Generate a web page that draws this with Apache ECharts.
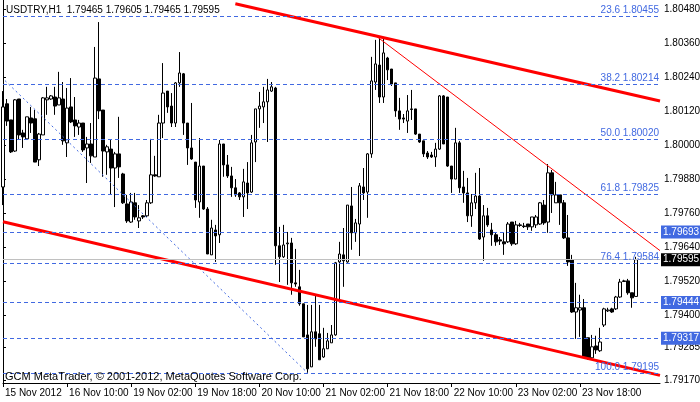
<!DOCTYPE html>
<html><head><meta charset="utf-8">
<script src="https://cdn.jsdelivr.net/npm/echarts@6/dist/echarts.min.js"></script>
<style>html,body{margin:0;padding:0;background:#fff;overflow:hidden}#c{width:700px;height:402px}</style>
</head><body><div id="c"></div>
<script>
const chartTitle = 'USDTRY,H1  1.79465 1.79605 1.79465 1.79595';
const copyright = 'GCM MetaTrader, \u00A9 2001-2012, MetaQuotes Software Corp.';
const timeLabels = ['15 Nov 2012','16 Nov 10:00','19 Nov 02:00','19 Nov 18:00','20 Nov 10:00','21 Nov 02:00','21 Nov 18:00','22 Nov 10:00','23 Nov 02:00','23 Nov 18:00'];
const barsPerLabel = 16;
const totalSlots = 165;
const yTicks = [1.80480,1.80360,1.80240,1.80120,1.80000,1.79880,1.79760,1.79640,1.79520,1.79400,1.79285,1.79170];

const open = [1.79852,1.80146,1.80089,1.79979,1.80163,1.80043,1.80022,1.80096,1.80093,1.79948,
1.80036,1.80160,1.80163,1.80170,1.80142,1.80163,1.80008,1.80135,1.80089,1.80064,
1.80078,1.79990,1.80004,1.79958,1.80234,1.80124,1.79976,1.79986,1.79919,1.79969,
1.79898,1.79792,1.79728,1.79796,1.79732,1.79750,1.79750,1.79796,1.79895,1.79888,
1.80078,1.80191,1.80138,1.80078,1.80220,1.80252,1.80078,1.79990,1.79940,1.79799,
1.79926,1.79774,1.79612,1.79700,1.79683,1.80004,1.79930,1.79891,1.79849,1.79831,
1.79817,1.79866,1.79834,1.80011,1.80128,1.80135,1.80153,1.80191,1.80202,1.79644,
1.79605,1.79651,1.79654,1.79513,1.79499,1.79439,1.79329,1.79216,1.79340,1.79333,
1.79251,1.79280,1.79301,1.79329,1.79587,1.79612,1.79587,1.79785,1.79690,1.79721,
1.79852,1.79834,1.79969,1.80223,1.80283,1.80170,1.80308,1.80269,1.80220,1.80121,
1.80096,1.80085,1.80128,1.80128,1.80039,1.80015,1.79972,1.79965,1.79958,1.79986,
1.80174,1.80170,1.79926,1.79880,1.80008,1.79852,1.79831,1.79750,1.79796,1.79820,
1.79675,1.79750,1.79700,1.79683,1.79665,1.79658,1.79658,1.79728,1.79651,1.79718,
1.79714,1.79721,1.79711,1.79718,1.79721,1.79788,1.79728,1.79902,1.79796,1.79824,
1.79796,1.79672,1.79594,1.79410,1.79417,1.79425,1.79319,1.79248,1.79290,1.79273,
1.79364,1.79414,1.79421,1.79421,1.79463,1.79520,1.79520,1.79478,1.79465];
const close = [1.80135,1.80085,1.79976,1.80160,1.80036,1.80029,1.80100,1.80078,1.79940,1.80039,
1.80167,1.80167,1.80174,1.80138,1.80167,1.80015,1.80131,1.80082,1.80068,1.80078,
1.79983,1.80004,1.79962,1.80237,1.80121,1.79979,1.79994,1.79919,1.79969,1.79923,
1.79796,1.79732,1.79799,1.79746,1.79743,1.79746,1.79796,1.79895,1.79891,1.80078,
1.80184,1.80135,1.80078,1.80220,1.80255,1.80078,1.79990,1.79951,1.79806,1.79926,
1.79774,1.79615,1.79707,1.79679,1.80004,1.79930,1.79891,1.79849,1.79824,1.79817,
1.79870,1.79831,1.80008,1.80128,1.80138,1.80153,1.80195,1.80206,1.79644,1.79605,
1.79647,1.79654,1.79513,1.79509,1.79439,1.79322,1.79209,1.79340,1.79315,1.79241,
1.79280,1.79308,1.79329,1.79584,1.79615,1.79591,1.79788,1.79690,1.79725,1.79856,
1.79831,1.79969,1.80227,1.80287,1.80170,1.80326,1.80266,1.80216,1.80121,1.80092,
1.80092,1.80121,1.80126,1.80039,1.80011,1.79969,1.79958,1.79958,1.79986,1.80174,
1.80004,1.79926,1.79880,1.80008,1.79849,1.79831,1.79750,1.79796,1.79820,1.79668,
1.79750,1.79718,1.79683,1.79658,1.79661,1.79651,1.79721,1.79651,1.79718,1.79716,
1.79712,1.79711,1.79746,1.79746,1.79796,1.79725,1.79902,1.79824,1.79824,1.79796,
1.79672,1.79587,1.79410,1.79425,1.79425,1.79251,1.79248,1.79287,1.79276,1.79304,
1.79421,1.79417,1.79410,1.79463,1.79516,1.79518,1.79478,1.79460,1.79595];
const low = [1.79788,1.80068,1.79972,1.79976,1.80018,1.79990,1.80018,1.80043,1.79940,1.79926,
1.80036,1.80107,1.80160,1.80107,1.80142,1.80001,1.79958,1.80078,1.80029,1.80036,
1.79976,1.79866,1.79937,1.79958,1.80092,1.79888,1.79895,1.79824,1.79781,1.79884,
1.79792,1.79725,1.79725,1.79736,1.79707,1.79739,1.79746,1.79792,1.79888,1.79888,
1.80025,1.80114,1.80064,1.80064,1.80206,1.80036,1.79930,1.79948,1.79778,1.79743,
1.79771,1.79615,1.79612,1.79587,1.79654,1.79888,1.79884,1.79817,1.79817,1.79806,
1.79746,1.79774,1.79831,1.79940,1.80061,1.80078,1.80011,1.80188,1.79577,1.79516,
1.79601,1.79506,1.79471,1.79499,1.79432,1.79322,1.79195,1.79216,1.79287,1.79241,
1.79248,1.79280,1.79301,1.79326,1.79453,1.79499,1.79584,1.79630,1.79658,1.79608,
1.79806,1.79743,1.79955,1.80195,1.80149,1.80149,1.80230,1.80209,1.80100,1.80054,
1.80078,1.80043,1.80089,1.80036,1.80008,1.79958,1.79951,1.79955,1.79923,1.79983,
1.80004,1.79923,1.79831,1.79880,1.79831,1.79796,1.79728,1.79711,1.79774,1.79665,
1.79591,1.79711,1.79644,1.79644,1.79647,1.79612,1.79654,1.79644,1.79647,1.79711,
1.79707,1.79700,1.79697,1.79707,1.79718,1.79718,1.79690,1.79760,1.79796,1.79718,
1.79668,1.79573,1.79407,1.79315,1.79322,1.79248,1.79241,1.79244,1.79262,1.79269,
1.79357,1.79410,1.79407,1.79417,1.79460,1.79516,1.79471,1.79425,1.79465];
const high = [1.80191,1.80163,1.80089,1.80163,1.80163,1.80054,1.80100,1.80135,1.80124,1.80043,
1.80170,1.80206,1.80177,1.80206,1.80259,1.80223,1.80202,1.80237,1.80170,1.80089,
1.80078,1.80029,1.80078,1.80347,1.80435,1.80124,1.80001,1.80018,1.79976,1.80100,
1.79902,1.79824,1.79831,1.79831,1.79788,1.79753,1.79806,1.80022,1.79962,1.80107,
1.80290,1.80191,1.80184,1.80223,1.80329,1.80255,1.80078,1.80149,1.79940,1.80025,
1.79926,1.79781,1.79736,1.79718,1.80018,1.80004,1.79965,1.79923,1.79880,1.79834,
1.79916,1.79940,1.80036,1.80128,1.80188,1.80206,1.80234,1.80223,1.80206,1.79711,
1.79718,1.79693,1.79672,1.79633,1.79559,1.79439,1.79435,1.79435,1.79471,1.79435,
1.79354,1.79336,1.79364,1.79587,1.79658,1.79707,1.79788,1.79852,1.79739,1.79866,
1.79919,1.79972,1.80312,1.80372,1.80379,1.80382,1.80312,1.80269,1.80220,1.80167,
1.80110,1.80177,1.80195,1.80128,1.80039,1.80015,1.79979,1.79976,1.80008,1.80177,
1.80177,1.80170,1.79926,1.80061,1.80015,1.79909,1.79884,1.79827,1.79902,1.79919,
1.79788,1.79778,1.79725,1.79690,1.79675,1.79690,1.79728,1.79728,1.79732,1.79725,
1.79725,1.79721,1.79746,1.79753,1.79799,1.79806,1.79933,1.79912,1.79870,1.79824,
1.79806,1.79753,1.79612,1.79513,1.79471,1.79456,1.79319,1.79329,1.79326,1.79354,
1.79425,1.79425,1.79425,1.79467,1.79527,1.79524,1.79527,1.79478,1.79605];

const fibLevels = [23.6, 38.2, 50.0, 61.8, 76.4, 100.0];
const fibPrices = [1.80455, 1.80214, 1.80020, 1.79825, 1.79584, 1.79195];
const hLinePrices = [1.79693, 1.79444, 1.79317];
const bidPrice = 1.79595;

const upperChannel = [[58, 1.80500], [164, 1.80156]];
const lowerChannel = [[0, 1.79729], [164, 1.79186]];
const thinTrend = [[93, 1.80387], [164, 1.79627]];
const fibTrend = [[0.5, 1.80228], [76, 1.79195]];

const FONT = "'Liberation Sans', Arial, sans-serif";
const BLUE = '#4169e1';

const cats = [];
for (let i = 0; i < totalSlots; i++) cats.push(String(i));
const ohlc = open.map((o, i) => [o, close[i], low[i], high[i]]);
const isTickIdx = (idx) => idx % barsPerLabel === 0 && idx / barsPerLabel < timeLabels.length;

const markData = [];
fibLevels.forEach((lv, i) => {
  markData.push({
    yAxis: fibPrices[i],
    lineStyle: { color: BLUE, type: [4, 3], width: 1, opacity: 1 },
    label: { show: true, position: 'insideEndTop', distance: [1, 1],
      formatter: lv.toFixed(1) + ' ' + fibPrices[i].toFixed(5),
      color: BLUE, fontSize: 10, fontFamily: FONT }
  });
});
hLinePrices.forEach((p) => {
  markData.push({
    yAxis: p,
    lineStyle: { color: BLUE, type: [4, 3], width: 1, opacity: 1 },
    label: { show: true, position: 'end', distance: 1, formatter: p.toFixed(5),
      color: '#fff', backgroundColor: BLUE, padding: [2, 2, 1, 2], fontSize: 10, fontFamily: FONT }
  });
});
markData.push({
  yAxis: bidPrice,
  lineStyle: { color: '#c0c0c0', type: 'solid', width: 1, opacity: 1 },
  label: { show: true, position: 'end', distance: 1, formatter: bidPrice.toFixed(5),
    color: '#fff', backgroundColor: '#000', padding: [2, 2, 1, 2], fontSize: 10, fontFamily: FONT }
});

const yMin = 1.79159, yMax = 1.80513;

const option = {
  animation: false,
  backgroundColor: '#fff',
  title: [
    { text: chartTitle, left: 6, top: 5, padding: 0,
      textStyle: { fontSize: 10, fontWeight: 'normal', color: '#000', fontFamily: FONT } },
    { text: copyright, left: 5, top: 371, padding: 0,
      textStyle: { fontSize: 11, fontWeight: 'normal', color: '#000', fontFamily: FONT } }
  ],
  grid: { left: 3, right: 40, top: 0, bottom: 19, containLabel: false, outerBoundsMode: 'none' },
  xAxis: [
    { type: 'category', data: cats, boundaryGap: false,
      axisLine: { show: true, lineStyle: { color: '#000', width: 1 } },
      axisTick: { show: true, interval: (idx) => isTickIdx(idx), length: 4, lineStyle: { color: '#000' } },
      axisLabel: { interval: (idx) => isTickIdx(idx), align: 'left', margin: 5, padding: [0, 0, 0, 2],
        formatter: (v) => timeLabels[Number(v) / barsPerLabel] || '', hideOverlap: false,
        color: '#000', fontSize: 10, fontFamily: FONT },
      splitLine: { show: false } },
    { type: 'value', min: 0, max: totalSlots - 1, show: false }
  ],
  yAxis: [
    { type: 'value', position: 'right', min: yMin, max: yMax, scale: true,
      axisLine: { show: true, lineStyle: { color: '#000', width: 1 } },
      axisTick: { show: true, customValues: yTicks, length: 3, lineStyle: { color: '#000' } },
      axisLabel: { show: true, customValues: yTicks, margin: 4, formatter: (v) => v.toFixed(5),
        color: '#000', fontSize: 10, fontFamily: FONT, hideOverlap: false },
      splitLine: { show: false } },
    { type: 'value', position: 'left', min: yMin, max: yMax, scale: true,
      axisLine: { show: true, onZero: false, lineStyle: { color: '#000', width: 1 } },
      axisTick: { show: false }, axisLabel: { show: false }, splitLine: { show: false } }
  ],
  series: [
    { type: 'line', name: 'levels', xAxisIndex: 1, data: lowerChannel, symbol: 'none', silent: true,
      lineStyle: { opacity: 0 }, z: 1,
      markLine: { symbol: 'none', silent: true, animation: false, precision: 5, data: markData } },
    { type: 'candlestick', data: ohlc, barWidth: 3, clip: true, z: 2,
      itemStyle: { color: '#fff', color0: '#000', borderColor: '#000', borderColor0: '#000',
        borderColorDoji: '#000', borderWidth: 1 } },
    { type: 'line', xAxisIndex: 1, data: fibTrend, symbol: 'none', silent: true, clip: true, z: 3,
      lineStyle: { color: BLUE, width: 1, type: [2, 3] } },
    { type: 'line', xAxisIndex: 1, data: lowerChannel, symbol: 'none', silent: true, clip: true, z: 3,
      lineStyle: { color: '#ff0000', width: 3 } },
    { type: 'line', xAxisIndex: 1, data: upperChannel, symbol: 'none', silent: true, clip: true, z: 3,
      lineStyle: { color: '#ff0000', width: 3 } },
    { type: 'line', xAxisIndex: 1, data: thinTrend, symbol: 'none', silent: true, clip: true, z: 3,
      lineStyle: { color: '#ff0000', width: 1 } }
  ]
};
const chart = echarts.init(document.getElementById('c'), null, { renderer: 'canvas' });
chart.setOption(option);
</script>
</body></html>
